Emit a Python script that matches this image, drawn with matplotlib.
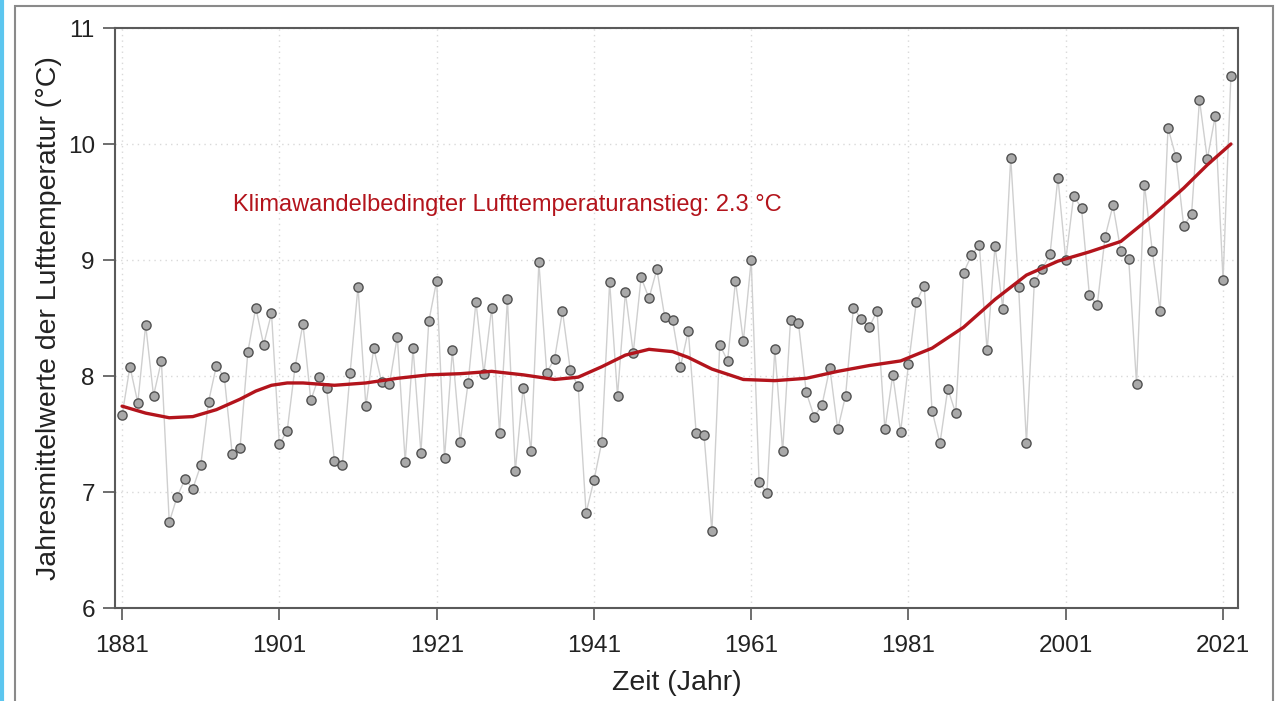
import matplotlib
matplotlib.use("Agg")
import matplotlib.pyplot as plt
from matplotlib.patches import Rectangle
from matplotlib.lines import Line2D

plt.rcParams['font.family'] = ['Liberation Sans', 'DejaVu Sans']

years = list(range(1881, 2023))
temps = [
    7.66, 8.08, 7.77, 8.44, 7.83, 8.13, 6.74, 6.96, 7.11, 7.03,   # 1881-1890
    7.23, 7.78, 8.09, 7.99, 7.33, 7.38, 8.21, 8.59, 8.27, 8.54,   # 1891-1900
    7.41, 7.53, 8.08, 8.45, 7.79, 7.99, 7.90, 7.27, 7.23, 8.03,   # 1901-1910
    8.77, 7.74, 8.24, 7.95, 7.93, 8.34, 7.26, 8.24, 7.34, 8.47,   # 1911-1920
    8.82, 7.29, 8.22, 7.43, 7.94, 8.64, 8.02, 8.59, 7.51, 8.66,   # 1921-1930
    7.18, 7.90, 7.35, 8.98, 8.03, 8.15, 8.56, 8.05, 7.91, 6.82,   # 1931-1940
    7.10, 7.43, 8.81, 7.83, 8.72, 8.20, 8.85, 8.67, 8.92, 8.51,   # 1941-1950
    8.48, 8.08, 8.39, 7.51, 7.49, 6.66, 8.27, 8.13, 8.82, 8.30,   # 1951-1960
    9.00, 7.09, 6.99, 8.23, 7.35, 8.48, 8.46, 7.86, 7.65, 7.75,   # 1961-1970
    8.07, 7.54, 7.83, 8.59, 8.49, 8.42, 8.56, 7.54, 8.01, 7.52,   # 1971-1980
    8.10, 8.64, 8.78, 7.70, 7.42, 7.89, 7.68, 8.89, 9.04, 9.13,   # 1981-1990
    8.22, 9.12, 8.58, 9.88, 8.77, 7.42, 8.81, 8.92, 9.05, 9.71,   # 1991-2000
    9.00, 9.55, 9.45, 8.70, 8.61, 9.20, 9.47, 9.08, 9.01, 7.93,   # 2001-2010
    9.65, 9.08, 8.56, 10.14, 9.89, 9.29, 9.40, 10.38, 9.87, 10.24, # 2011-2020
    8.83, 10.59,                                                   # 2021-2022
]

trend_years = [1881, 1884, 1887, 1890, 1893, 1896, 1898, 1900, 1902, 1904,
               1908, 1912, 1916, 1920, 1924, 1928, 1932, 1936, 1939, 1942,
               1945, 1948, 1951, 1953, 1956, 1960, 1964, 1968, 1972, 1976,
               1980, 1984, 1988, 1992, 1996, 2000, 2004, 2008, 2012, 2016,
               2019, 2022]
trend_vals = [7.74, 7.68, 7.64, 7.65, 7.71, 7.80, 7.87, 7.92, 7.94, 7.94,
              7.92, 7.94, 7.98, 8.01, 8.02, 8.04, 8.01, 7.97, 7.99, 8.08,
              8.18, 8.23, 8.21, 8.16, 8.06, 7.97, 7.96, 7.98, 8.04, 8.09,
              8.13, 8.24, 8.42, 8.66, 8.87, 8.99, 9.07, 9.16, 9.38, 9.62,
              9.82, 10.00]

xticks = [1881, 1901, 1921, 1941, 1961, 1981, 2001, 2021]
yticks = [6, 7, 8, 9, 10, 11]

W, H = 1281, 701
fig = plt.figure(figsize=(W / 100, H / 100), dpi=100)
fig.patch.set_facecolor('white')

# outer frame and left cyan strip (screenshot decoration)
fig.add_artist(Rectangle((15 / W, -0.01), (1273 - 15) / W, (H - 6) / H + 0.01,
                         transform=fig.transFigure, fill=False,
                         edgecolor='#8a8a8a', linewidth=1.5))
fig.add_artist(Line2D([2 / W, 2 / W], [0, 1], transform=fig.transFigure,
                      color='#5cc6ef', linewidth=3))

ax = fig.add_axes([115 / W, 1 - 608 / H, (1238 - 115) / W, (608 - 28) / H])
ax.set_xlim(1880.1, 2022.9)
ax.set_ylim(6, 11)

ax.grid(True, color='#d9d9d9', linestyle=(0, (1, 3)), linewidth=1.0)
ax.set_axisbelow(True)

ax.plot(years, temps, color='#cfcfcf', linewidth=1.0, zorder=2)
ax.plot(years, temps, linestyle='none', marker='o', markersize=6.6,
        markerfacecolor='#a9a9a9', markeredgecolor='#505050',
        markeredgewidth=1.0, zorder=3)
ax.plot(trend_years, trend_vals, color='#b3141c', linewidth=2.4,
        solid_capstyle='round', solid_joinstyle='round', zorder=4)

ax.text(1895.1, 9.47, 'Klimawandelbedingter Lufttemperaturanstieg: 2.3 °C',
        color='#b3141c', fontsize=17, ha='left', va='center')

ax.set_xticks(xticks)
ax.set_yticks(yticks)
ax.tick_params(axis='both', direction='out', length=8.5, width=1.2,
               color='#555555', labelsize=17.5, labelcolor='#222222')
ax.tick_params(axis='x', pad=11)
ax.tick_params(axis='y', pad=6)
for s in ax.spines.values():
    s.set_color('#5a5a5a')
    s.set_linewidth(1.5)

ax.set_xlabel('Zeit (Jahr)', fontsize=20.5, color='#222222', labelpad=9)
ax.set_ylabel('Jahresmittelwerte der Lufttemperatur (°C)', fontsize=20.5,
              color='#222222', labelpad=4)

fig.savefig('out.png', dpi=100)
